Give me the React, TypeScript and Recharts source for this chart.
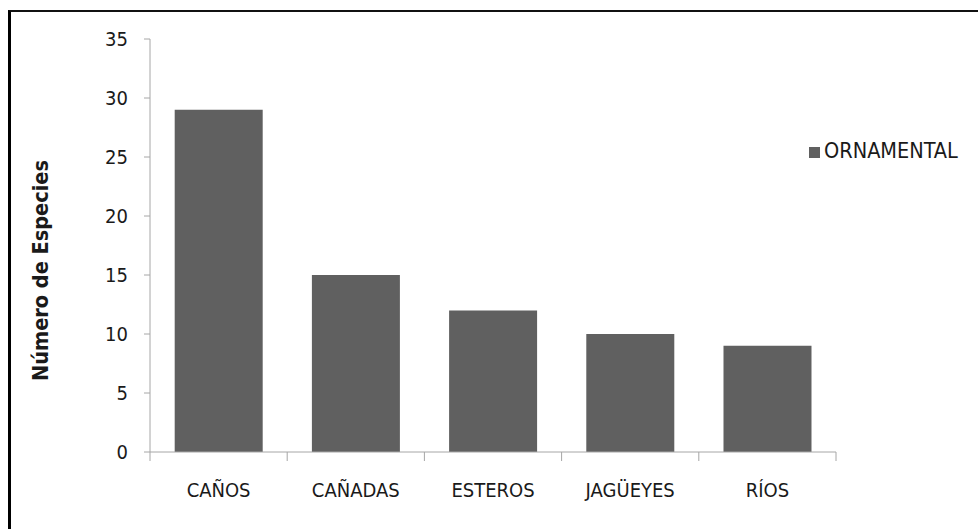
import { Bar, BarChart, Legend, XAxis, YAxis } from "recharts";

const categorias = ["CAÑOS", "CAÑADAS", "ESTEROS", "JAGÜEYES", "RÍOS"];
const ornamental = [29, 15, 12, 10, 9];
const yTicks = [0, 5, 10, 15, 20, 25, 30, 35];

const rows = categorias.map((sitio, i) => ({ sitio, ORNAMENTAL: ornamental[i] }));

const CHART_W = 978;
const CHART_H = 529;
const MARGIN = { top: 39, right: 142, bottom: 0, left: 0 };
const Y_AXIS_W = 150;
const X_AXIS_H = 77;
const PLOT_W = CHART_W - MARGIN.left - MARGIN.right - Y_AXIS_W;
const X_TICK_SIZE = 9;
const X_TICK_MARGIN = 22;

const FONT = '"DejaVu Sans Condensed", "Liberation Sans", sans-serif';
const AXIS_GREY = "#a6a6a6";
const TEXT = "#1a1a1a";

// Excel-style category axis: tick marks sit between categories, not under them
const CategoryTick = (props: any) => {
  const { x, y, payload, index } = props;
  const half = PLOT_W / categorias.length / 2;
  const axisY = y - X_TICK_SIZE - X_TICK_MARGIN;
  return (
    <g>
      <line x1={x - half} x2={x - half} y1={axisY} y2={axisY + X_TICK_SIZE} stroke={AXIS_GREY} />
      {index === categorias.length - 1 && (
        <line x1={x + half} x2={x + half} y1={axisY} y2={axisY + X_TICK_SIZE} stroke={AXIS_GREY} />
      )}
      <text x={x} y={y} dy="0.71em" textAnchor="middle" fill={TEXT} fontSize={20} fontFamily={FONT}>
        {payload.value}
      </text>
    </g>
  );
};

export default function App() {
  return (
    <div style={{ position: "fixed", left: 0, top: 0, width: CHART_W, height: CHART_H, overflow: "hidden", background: "#fff" }}>
      <div
        style={{
          position: "absolute",
          left: 8,
          top: 10,
          width: 1100,
          height: 700,
          borderTop: "2px solid #111",
          borderLeft: "3px solid #000",
        }}
      />
      <div style={{ position: "absolute", left: 0, top: 0 }}>
        <BarChart width={CHART_W} height={CHART_H} data={rows} margin={MARGIN} barCategoryGap="18%">
          <XAxis
            dataKey="sitio"
            height={X_AXIS_H}
            stroke={AXIS_GREY}
            tickLine={false}
            tickSize={X_TICK_SIZE}
            tickMargin={X_TICK_MARGIN}
            tick={<CategoryTick />}
            interval={0}
          />
          <YAxis
            width={Y_AXIS_W}
            domain={[0, 35]}
            ticks={yTicks}
            interval={0}
            stroke={AXIS_GREY}
            tickSize={6}
            tickMargin={16}
            tick={{ fill: TEXT, fontSize: 20, fontFamily: FONT }}
            label={{
              value: "Número de Especies",
              angle: -90,
              position: "insideLeft",
              offset: 40,
              dy: 25,
              style: { textAnchor: "middle", fill: TEXT, fontSize: 21.5, fontWeight: "bold", fontFamily: FONT },
            }}
          />
          {/* horizontal + middle/center keeps the legend out of the plot offset */}
          <Legend
            layout="horizontal"
            align="center"
            verticalAlign="middle"
            iconType="square"
            iconSize={11}
            wrapperStyle={{ left: 809, top: 138, width: "auto", fontFamily: FONT, fontSize: 21.5 }}
            formatter={(value) => <span style={{ color: TEXT }}>{value}</span>}
          />
          <Bar dataKey="ORNAMENTAL" fill="#606060" isAnimationActive={false} />
        </BarChart>
      </div>
    </div>
  );
}
